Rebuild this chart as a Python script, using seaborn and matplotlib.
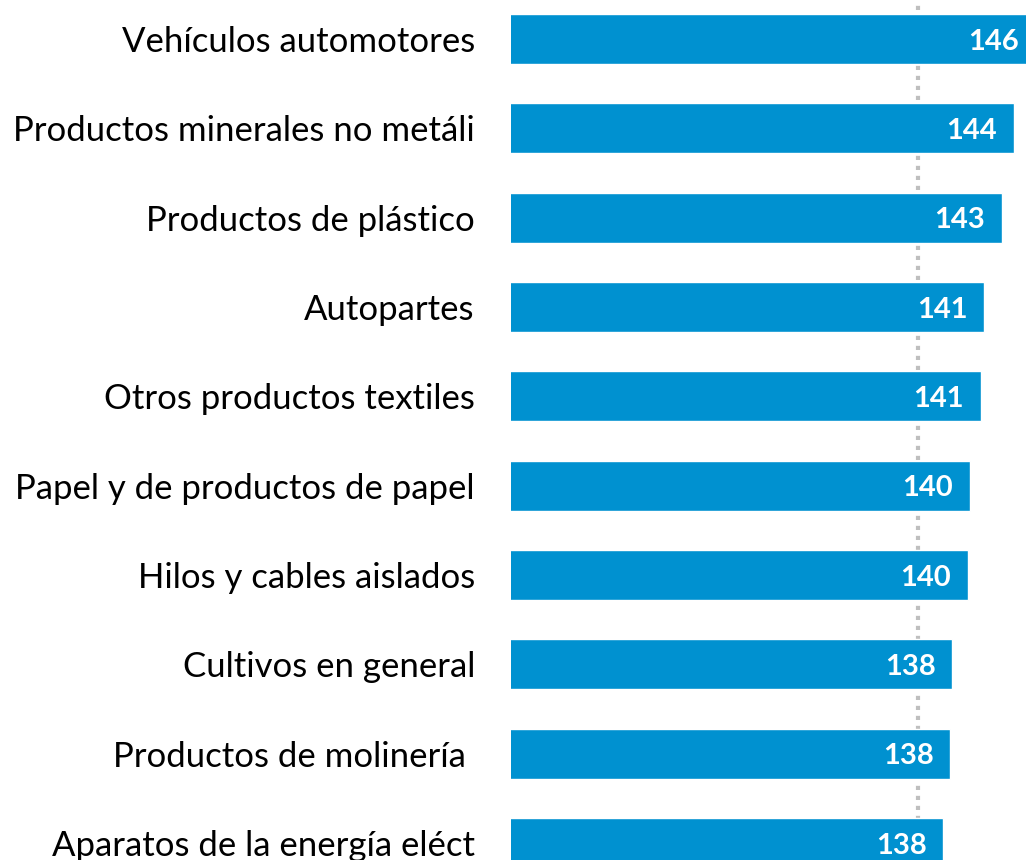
import matplotlib
matplotlib.use("Agg")
import matplotlib.pyplot as plt
import seaborn as sns

# données (indice par industrie)
categorias = [
    "Vehículos automotores",
    "Productos minerales no metáli",
    "Productos de plástico",
    "Autopartes",
    "Otros productos textiles",
    "Papel y de productos de papel",
    "Hilos y cables aislados",
    "Cultivos en general",
    "Productos de molinería ",
    "Aparatos de la energía eléct",
]
valores = [146.0, 144.0, 142.9, 141.3, 141.0, 140.0, 139.8, 138.4, 138.2, 137.6]
referencia = 135.3

azul = "#0091D0"

sns.set_theme(style="white")
plt.rcParams["font.family"] = ["Lato", "DejaVu Sans"]

fig = plt.figure(figsize=(10.26, 8.6), dpi=100)
ax = fig.add_axes([511 / 1026, 0, 1 - 511 / 1026, 1])

# ligne pointillée de référence (derrière les barres)
ax.axvline(referencia, color="#BFBFBF", linewidth=3, linestyle=(0, (1, 1.4)), zorder=0)

sns.barplot(x=valores, y=categorias, color=azul, width=0.56, saturation=1,
            orient="h", ax=ax, zorder=2)

# étiquettes blanches à l'intérieur des barres
for i, v in enumerate(valores):
    ax.annotate(f"{v:.0f}", xy=(v, i), xytext=(-12, -2), textcoords="offset points",
                ha="right", va="center", color="white", fontsize=21,
                fontweight="bold", annotation_clip=False, zorder=3)

ax.set_xlim(98.3, 145.1)
ax.set_ylim(9.19, -0.437)
ax.set_xlabel("")
ax.set_ylabel("")
ax.set_xticks([])
ax.tick_params(axis="y", length=0, pad=26, labelsize=25, labelcolor="black")
for s in ax.spines.values():
    s.set_visible(False)

fig.savefig("out.png", dpi=100)
